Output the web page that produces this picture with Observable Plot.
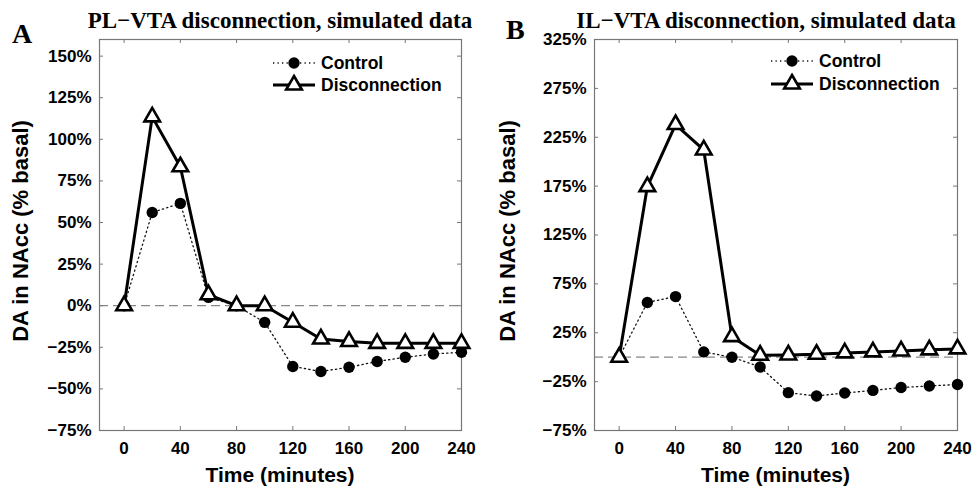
<!DOCTYPE html>
<html>
<head>
<meta charset="utf-8">
<script src="https://cdn.jsdelivr.net/npm/d3@7"></script>
<script src="https://cdn.jsdelivr.net/npm/@observablehq/plot@0.6"></script>
<style>
  html, body { margin: 0; padding: 0; background: #fff; }
  #wrap { position: relative; width: 974px; height: 486px; overflow: hidden; }
  .panel { position: absolute; top: 0; width: 487px; height: 486px; }
  .title { position: absolute; font-family: "Liberation Serif", serif; font-weight: bold; font-size: 23px; white-space: nowrap; transform: translateX(-50%); line-height: 1; }
  .letter { position: absolute; font-family: "Liberation Serif", serif; font-weight: bold; font-size: 28px; line-height: 1; }
  .xlab { position: absolute; font-family: "Liberation Sans", sans-serif; font-weight: bold; font-size: 21px; white-space: nowrap; transform: translateX(-50%); line-height: 1; }
  .ylab { position: absolute; font-family: "Liberation Sans", sans-serif; font-weight: bold; font-size: 22px; white-space: nowrap; transform: translate(-50%, -50%) rotate(-90deg); line-height: 1; }
  .legend { position: absolute; }
  .legend text { font-family: "Liberation Sans", sans-serif; font-weight: bold; font-size: 17.5px; }
</style>
</head>
<body>
<div id="wrap"></div>
<script>
// ---- data ----
const times = [0, 20, 40, 60, 80, 100, 120, 140, 160, 180, 200, 220, 240];

const controlA      = [0, 56, 61.5, 5, 0, -10, -36.5, -39.5, -37, -33.5, -31, -29, -28];
const disconnectA   = [0, 113.5, 83.5, 6.6, 0, 0, -9.9, -20, -21.5, -22.6, -22.6, -22.6, -22.6];

const controlB      = [0, 56, 62, 5.4, 0, -10, -36.3, -39.7, -36.6, -34, -31, -29.4, -28];
const disconnectB   = [0, 174.5, 238, 212, 21, 2, 2.3, 3, 4.4, 5.4, 6.4, 7.5, 8.5];

const xTicks  = [0, 40, 80, 120, 160, 200, 240];
const yTicksA = [-75, -50, -25, 0, 25, 50, 75, 100, 125, 150];
const yTicksB = [-75, -25, 25, 75, 125, 175, 225, 275, 325];

const seriesNames = ["Control", "Disconnection"];
const titles = ["PL\u2212VTA disconnection, simulated data", "IL\u2212VTA disconnection, simulated data"];
const letters = ["A", "B"];

const fmtPct = d => (d < 0 ? "\u2212" : "") + Math.abs(d) + "%";

function panel(cfg) {
  const ctrl = times.map((t, i) => ({t, v: cfg.control[i]}));
  const disc = times.map((t, i) => ({t, v: cfg.disconnect[i]}));
  const W = 487, H = 486;
  const innerW = W - cfg.ml - cfg.mr, innerH = H - cfg.mt - cfg.mb;
  const tick = 4;
  return Plot.plot({
    width: W, height: H,
    marginTop: cfg.mt, marginBottom: cfg.mb, marginLeft: cfg.ml, marginRight: cfg.mr,
    x: {domain: [-17.5, 240]},
    y: {domain: cfg.ydom},
    style: {fontFamily: "Liberation Sans, sans-serif", fontWeight: "bold", fontSize: "17px", background: "transparent", color: "black"},
    marks: [
      Plot.ruleY([0], {stroke: "#888", strokeWidth: 1.2, strokeDasharray: "9,5"}),
      // inward ticks on all four sides
      Plot.tickX(xTicks, {x: d => d, insetTop: innerH - tick, stroke: "#777"}),
      Plot.tickX(xTicks, {x: d => d, insetBottom: innerH - tick, stroke: "#777"}),
      Plot.tickY(cfg.yTicks, {y: d => d, insetRight: innerW - tick, stroke: "#777"}),
      Plot.tickY(cfg.yTicks, {y: d => d, insetLeft: innerW - tick, stroke: "#777"}),
      Plot.frame({stroke: "#777", strokeWidth: 1.2}),
      Plot.axisX(xTicks, {anchor: "bottom", tickSize: 0, tickPadding: 11, label: null, fontSize: 17}),
      Plot.axisY(cfg.yTicks, {anchor: "left", tickSize: 0, tickPadding: 8, label: null, tickFormat: fmtPct, fontSize: 17}),
      // control
      Plot.line(ctrl, {x: "t", y: "v", stroke: "#111", strokeWidth: 1.3, strokeDasharray: "1.3,3.2"}),
      Plot.dot(ctrl, {x: "t", y: "v", r: 5.7, fill: "black", stroke: "none"}),
      // disconnection
      Plot.line(disc, {x: "t", y: "v", stroke: "black", strokeWidth: 3}),
      Plot.dot(disc, {x: "t", y: "v", symbol: "triangle", r: 5.8, fill: "white", stroke: "black", strokeWidth: 2.6})
    ]
  });
}

const wrap = document.getElementById("wrap");

const panels = [
  {left: 0, ml: 99, mr: 26, mt: 39, mb: 56, ydom: [-75, 160], yTicks: yTicksA, control: controlA, disconnect: disconnectA,
   titleX: 280, titleY: 9, letterX: 12, letterY: 20, legX: 270, legY1: 63, legY2: 85},
  {left: 487, ml: 107, mr: 17, mt: 39, mb: 56, ydom: [-75, 325], yTicks: yTicksB, control: controlB, disconnect: disconnectB,
   titleX: 279, titleY: 9, letterX: 19, letterY: 16, legX: 281, legY1: 61, legY2: 84}
];

panels.forEach((p, k) => {
  const div = document.createElement("div");
  div.className = "panel";
  div.style.left = p.left + "px";
  div.appendChild(panel(p));

  const t = document.createElement("div");
  t.className = "title"; t.textContent = titles[k];
  t.style.left = p.titleX + "px"; t.style.top = p.titleY + "px";
  div.appendChild(t);

  const l = document.createElement("div");
  l.className = "letter"; l.textContent = letters[k];
  l.style.left = p.letterX + "px"; l.style.top = p.letterY + "px";
  div.appendChild(l);

  const cx = p.ml + (487 - p.ml - p.mr) / 2;
  const xl = document.createElement("div");
  xl.className = "xlab"; xl.textContent = "Time (minutes)";
  xl.style.left = cx + "px"; xl.style.top = "464px";
  div.appendChild(xl);

  const yl = document.createElement("div");
  yl.className = "ylab"; yl.textContent = "DA in NAcc (% basal)";
  yl.style.left = "21px"; yl.style.top = "231px";
  div.appendChild(yl);

  // legend
  const ns = "http://www.w3.org/2000/svg";
  const svg = document.createElementNS(ns, "svg");
  svg.setAttribute("class", "legend");
  svg.setAttribute("width", 200); svg.setAttribute("height", 50);
  svg.style.left = p.legX + "px"; svg.style.top = (p.legY1 - 12) + "px";
  const y1 = 12, y2 = 12 + (p.legY2 - p.legY1);
  const mk = (tag, attrs) => { const e = document.createElementNS(ns, tag); for (const a in attrs) e.setAttribute(a, attrs[a]); svg.appendChild(e); return e; };
  mk("line", {x1: 3, x2: 45, y1: y1, y2: y1, stroke: "#111", "stroke-width": 1.3, "stroke-dasharray": "1.3,3.2"});
  mk("circle", {cx: 24, cy: y1, r: 5.7, fill: "black"});
  mk("text", {x: 51, y: y1 + 6}).textContent = seriesNames[0];
  mk("line", {x1: 3, x2: 45, y1: y2, y2: y2, stroke: "black", "stroke-width": 3});
  mk("path", {d: d3.symbol(d3.symbolTriangle, 5.8 * 5.8 * Math.PI)(), transform: `translate(24,${y2})`, fill: "white", stroke: "black", "stroke-width": 2.6});
  mk("text", {x: 51, y: y2 + 6}).textContent = seriesNames[1];
  div.appendChild(svg);

  wrap.appendChild(div);
});
</script>
</body>
</html>
